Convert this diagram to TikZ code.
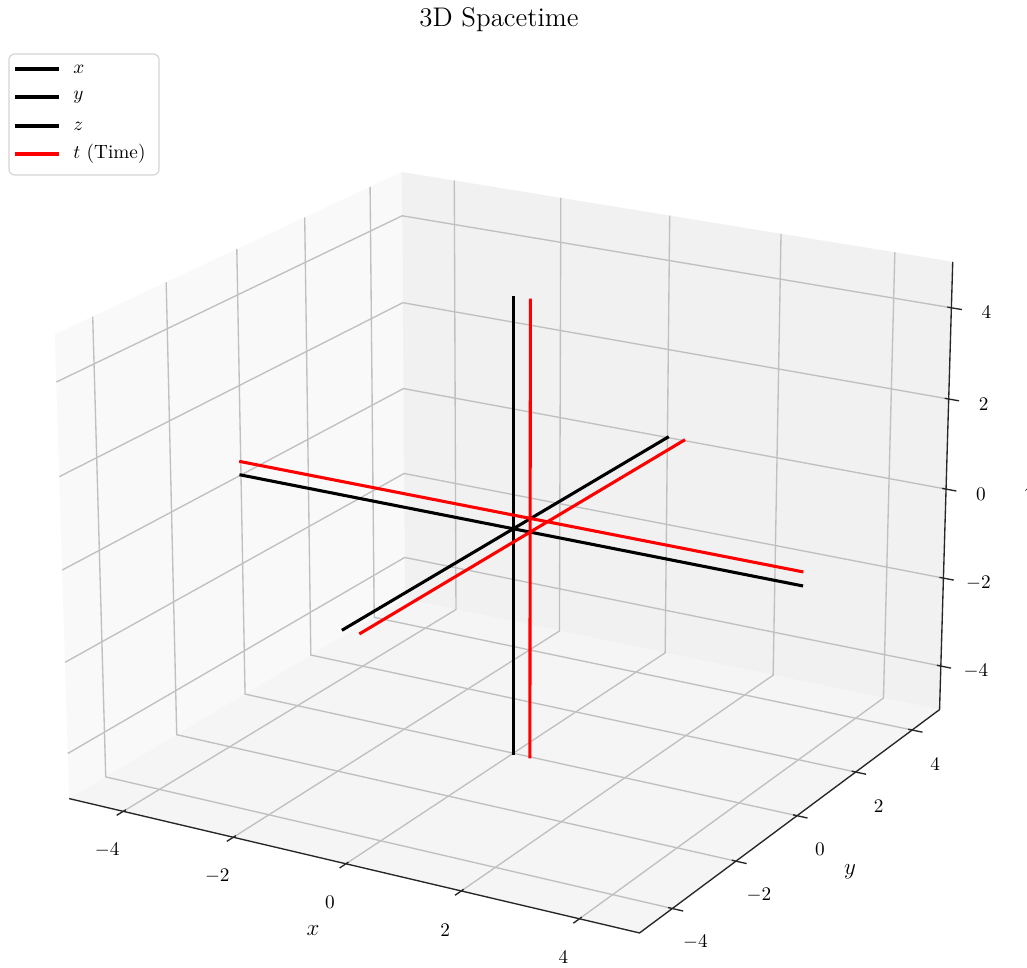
\documentclass[tikz,border=0pt]{standalone}
\usepackage{amsmath}
\usetikzlibrary{calc}
\definecolor{panex}{RGB}{249,249,249}
\definecolor{paney}{RGB}{241,241,241}
\definecolor{panez}{RGB}{245,245,245}
\definecolor{gridc}{RGB}{192,192,192}
\definecolor{legedge}{RGB}{212,212,212}

% data point (x,y,z) -> picture point, perspective view (elev 20, azim -60)
\newcommand{\ptxyz}[4]{%
  \pgfmathsetmacro{\pux}{0.4*(#2)}%
  \pgfmathsetmacro{\puy}{0.4*(#3)}%
  \pgfmathsetmacro{\puz}{0.3*(#4)}%
  \pgfmathsetmacro{\pk}{33/(33-0.46985*(\pux)+0.8138*(\puy)-0.34202*(\puz))}%
  \pgfmathsetmacro{\ppx}{513.3+161.7*\pk*(0.86603*(\pux)+0.5*(\puy))}%
  \pgfmathsetmacro{\ppy}{528.75-161.7*\pk*(-0.17101*(\pux)+0.2962*(\puy)+0.93969*(\puz))}%
  \coordinate (#1) at (\ppx,\ppy);}

\begin{document}
\begin{tikzpicture}[x=0.52pt,y=-0.52pt,
    gridline/.style={draw=gridc,line width=0.7pt},
    axisline/.style={draw=black!85,line width=0.7pt},
    ticklbl/.style={font=\fontsize{10}{12}\selectfont,inner sep=0pt},
    axlbl/.style={font=\fontsize{12}{14}\selectfont,inner sep=0pt},
    blackline/.style={draw=black,line width=1.6pt,line cap=rect},
    redline/.style={draw=red,line width=1.6pt,line cap=rect}]
  \useasboundingbox (0,0) rectangle (1027,967);
  \fill[white] (0,0) rectangle (1027,967);
  % box corners
  \ptxyz{b1}{-5}{-5}{-5}\ptxyz{b2}{5}{-5}{-5}\ptxyz{b3}{5}{5}{-5}\ptxyz{b4}{-5}{5}{-5}
  \ptxyz{t1}{-5}{-5}{5}\ptxyz{t3}{5}{5}{5}\ptxyz{t4}{-5}{5}{5}
  % panes
  \fill[panex] (b1) -- (b4) -- (t4) -- (t1) -- cycle;
  \fill[paney] (b4) -- (b3) -- (t3) -- (t4) -- cycle;
  \fill[panez] (b1) -- (b2) -- (b3) -- (b4) -- cycle;
  % grid, ticks, tick labels
  \foreach \g in {-4,-2,0,2,4}{
    \ptxyz{xa\g}{\g}{-5}{-5}\ptxyz{xb\g}{\g}{5}{-5}\ptxyz{xc\g}{\g}{5}{5}
    \draw[gridline] (xa\g) -- (xb\g) -- (xc\g);
    \ptxyz{ya\g}{5}{\g}{-5}\ptxyz{yb\g}{-5}{\g}{-5}\ptxyz{yc\g}{-5}{\g}{5}
    \draw[gridline] (ya\g) -- (yb\g) -- (yc\g);
    \ptxyz{za\g}{-5}{-5}{\g}\ptxyz{zb\g}{-5}{5}{\g}\ptxyz{zc\g}{5}{5}{\g}
    \draw[gridline] (za\g) -- (zb\g) -- (zc\g);
  }
  \draw[axisline] (b1) -- (b2) -- (b3) -- (t3);
  \foreach \g in {-4,-2,0,2,4}{
    \ptxyz{xti\g}{\g}{-4.93}{-5}\ptxyz{xto\g}{\g}{-5.18}{-5}
    \draw[axisline] (xti\g) -- (xto\g);
    \node[ticklbl] (xl\g) at ($(xa\g)+(-16,39)$) {$\g$};
    \ptxyz{yti\g}{4.93}{\g}{-5}\ptxyz{yto\g}{5.18}{\g}{-5}
    \draw[axisline] (yti\g) -- (yto\g);
    \node[ticklbl] (yl\g) at ($(ya\g)+(23,34)$) {$\g$};
    \ptxyz{zti\g}{4.93}{5}{\g}\ptxyz{zto\g}{5.18}{5}{\g}
    \draw[axisline] (zti\g) -- (zto\g);
    \node[ticklbl] (zl\g) at ($(zc\g)+(35,5)$) {$\g$};
  }
  \node[axlbl] (xname) at (313,931) {$x$};
  \node[axlbl] (yname) at (850,872) {$y$};
  \node[axlbl] (zname) at (1030,487) {$z$};
  % spatial axes
  \ptxyz{xm}{-5}{0}{0}\ptxyz{xp}{5}{0}{0}
  \ptxyz{ym}{0}{-5}{0}\ptxyz{yp}{0}{5}{0}
  \ptxyz{zm}{0}{0}{-5}\ptxyz{zp}{0}{0}{5}
  \draw[blackline] (xm) -- (xp);
  \draw[blackline] (ym) -- (yp);
  \draw[blackline] (zm) -- (zp);
  % time axis
  \ptxyz{txm}{-5}{0}{0.3}\ptxyz{txp}{5}{0}{0.3}
  \ptxyz{tym}{0.3}{-5}{0}\ptxyz{typ}{0.3}{5}{0}
  \ptxyz{tzm}{0.3}{0}{-5}\ptxyz{tzp}{0.3}{0}{5}
  \draw[redline] (txm) -- (txp);
  \draw[redline] (tym) -- (typ);
  \draw[redline] (tzm) -- (tzp);
  % title
  \node[font=\fontsize{14}{17}\selectfont] (title) at (499,20) {3D Spacetime};
  % legend
  \draw[draw=legedge,fill=white,line width=0.6pt,rounded corners=3pt] (9,54) rectangle (159,175);
  \foreach \lab/\col/\yy in {x/black/69,y/black/97,z/black/126}{
    \coordinate (lga\lab) at (15,\yy);
    \coordinate (lgb\lab) at (59,\yy);
    \draw[draw=\col,line width=1.6pt] (lga\lab) -- (lgb\lab);
    \node[ticklbl,anchor=west] (lgt\lab) at (73,\yy) {$\lab$};
  }
  \coordinate (lgat) at (15,154);
  \coordinate (lgbt) at (59,154);
  \draw[draw=red,line width=1.6pt] (lgat) -- (lgbt);
  \node[ticklbl,anchor=west] (lgtt) at (73,154) {$t$ (Time)};
\end{tikzpicture}
\end{document}
